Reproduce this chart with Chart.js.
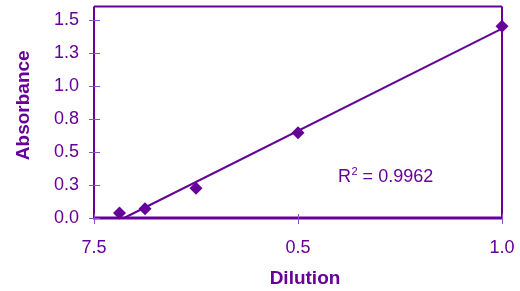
<!DOCTYPE html>
<html><head><meta charset="utf-8">
<script src="https://cdn.jsdelivr.net/npm/chart.js@4"></script>
<style>html,body{margin:0;padding:0;background:#fff}</style>
</head><body>
<canvas id="c" width="520" height="291"></canvas>
<script>
const dilution = [0.0625, 0.125, 0.25, 0.5, 1.0];
const absorbance = [0.038, 0.070, 0.226, 0.647, 1.455];
const yTickValues = [0, 0.25, 0.5, 0.75, 1.0, 1.25, 1.5];
const yTickLabels = ['0.0', '0.3', '0.5', '0.8', '1.0', '1.3', '1.5'];
const xTickValues = [0, 0.5, 1.0];
const xTickLabels = ['7.5', '0.5', '1.0'];
const xTitle = 'Dilution';
const yTitle = 'Absorbance';
const r2Text = '0.9962';

const PURPLE = '#660099';
const FONT = '"Liberation Sans", Arial, sans-serif';

// least squares trendline
const n = dilution.length;
const mx = dilution.reduce((a, b) => a + b, 0) / n;
const my = absorbance.reduce((a, b) => a + b, 0) / n;
let sxy = 0, sxx = 0;
for (let i = 0; i < n; i++) { sxy += (dilution[i] - mx) * (absorbance[i] - my); sxx += (dilution[i] - mx) ** 2; }
const slope = sxy / sxx, intercept = my - slope * mx;
const xEnd = dilution[n - 1];
const trend = [{ x: -intercept / slope, y: 0 }, { x: xEnd, y: slope * xEnd + intercept }];

const framePlugin = {
  id: 'frame',
  beforeDatasetsDraw(chart) {
    const { ctx, chartArea: a, scales } = chart;
    ctx.save();
    ctx.strokeStyle = PURPLE;
    ctx.lineWidth = 2;
    ctx.beginPath();
    ctx.moveTo(a.left, a.top); ctx.lineTo(a.right, a.top);
    ctx.moveTo(a.right, a.top); ctx.lineTo(a.right, a.bottom);
    ctx.moveTo(a.left, a.top); ctx.lineTo(a.left, a.bottom);
    ctx.stroke();
    ctx.lineWidth = 3;
    ctx.beginPath();
    ctx.moveTo(a.left - 1, a.bottom); ctx.lineTo(a.right + 1, a.bottom);
    ctx.stroke();
    ctx.lineWidth = 1;
    ctx.strokeStyle = '#8a4fc0';
    ctx.beginPath();
    yTickValues.forEach(v => {
      const y = Math.round(scales.y.getPixelForValue(v)) + 0.5;
      ctx.moveTo(a.left - 5, y); ctx.lineTo(a.left + 6, y);
    });
    xTickValues.forEach(v => {
      const x = Math.round(scales.x.getPixelForValue(v)) + 0.5;
      ctx.moveTo(x, a.bottom - 4); ctx.lineTo(x, a.bottom + 6);
    });
    ctx.stroke();
    ctx.restore();
  },
  afterDraw(chart) {
    const { ctx, chartArea: a } = chart;
    ctx.save();
    ctx.fillStyle = PURPLE;
    ctx.font = 'bold 19px ' + FONT;
    ctx.textAlign = 'center';
    ctx.textBaseline = 'middle';
    ctx.fillText(xTitle, (a.left + a.right) / 2 + 7, 279);
    ctx.translate(23.5, (a.top + a.bottom) / 2 - 7);
    ctx.rotate(-Math.PI / 2);
    ctx.fillText(yTitle, 0, 0);
    ctx.restore();
    // R squared annotation
    ctx.save();
    ctx.fillStyle = PURPLE;
    ctx.textAlign = 'left';
    ctx.textBaseline = 'alphabetic';
    let x = 338, y = 182;
    ctx.font = '18px ' + FONT;
    ctx.fillText('R', x, y);
    x += ctx.measureText('R').width;
    ctx.font = '11px ' + FONT;
    ctx.fillText('2', x + 0.5, y - 7);
    x += ctx.measureText('2').width + 0.5;
    ctx.font = '18px ' + FONT;
    ctx.fillText(' = ' + r2Text, x, y);
    ctx.restore();
  }
};

new Chart(document.getElementById('c'), {
  type: 'scatter',
  data: {
    datasets: [
      {
        data: dilution.map((v, i) => ({ x: v, y: absorbance[i] })),
        pointStyle: 'rectRot', pointRadius: 6.5, pointHoverRadius: 6.5,
        backgroundColor: PURPLE, borderColor: PURPLE, borderWidth: 0,
        showLine: false, clip: false
      },
      {
        data: trend, showLine: true, borderColor: PURPLE, borderWidth: 2,
        pointRadius: 0, pointHoverRadius: 0, fill: false, clip: false
      }
    ]
  },
  options: {
    responsive: false, animation: false, devicePixelRatio: 1,
    layout: { padding: { left: 0, right: 18, top: 5, bottom: 0 } },
    plugins: { legend: { display: false }, tooltip: { enabled: false } },
    scales: {
      x: {
        type: 'linear', min: 0, max: 1,
        afterBuildTicks: s => { s.ticks = xTickValues.map(v => ({ value: v })); },
        afterFit: s => { s.height = 73; s.paddingLeft = 0; s.paddingRight = 0; },
        grid: { display: false, drawTicks: false, tickLength: 0 },
        border: { display: false },
        ticks: {
          autoSkip: false, maxRotation: 0, padding: 19, color: PURPLE,
          font: { family: FONT, size: 18 },
          callback: (v, i) => xTickLabels[i]
        }
      },
      y: {
        type: 'linear', min: 0, max: 1.605,
        afterBuildTicks: s => { s.ticks = yTickValues.map(v => ({ value: v })); },
        afterFit: s => { s.width = 94; s.paddingTop = 0; s.paddingBottom = 0; },
        grid: { display: false, drawTicks: false, tickLength: 0 },
        border: { display: false },
        ticks: {
          autoSkip: false, padding: 15, color: PURPLE,
          font: { family: FONT, size: 18 },
          callback: (v, i) => yTickLabels[i]
        }
      }
    }
  },
  plugins: [framePlugin]
});
</script>
</body></html>
